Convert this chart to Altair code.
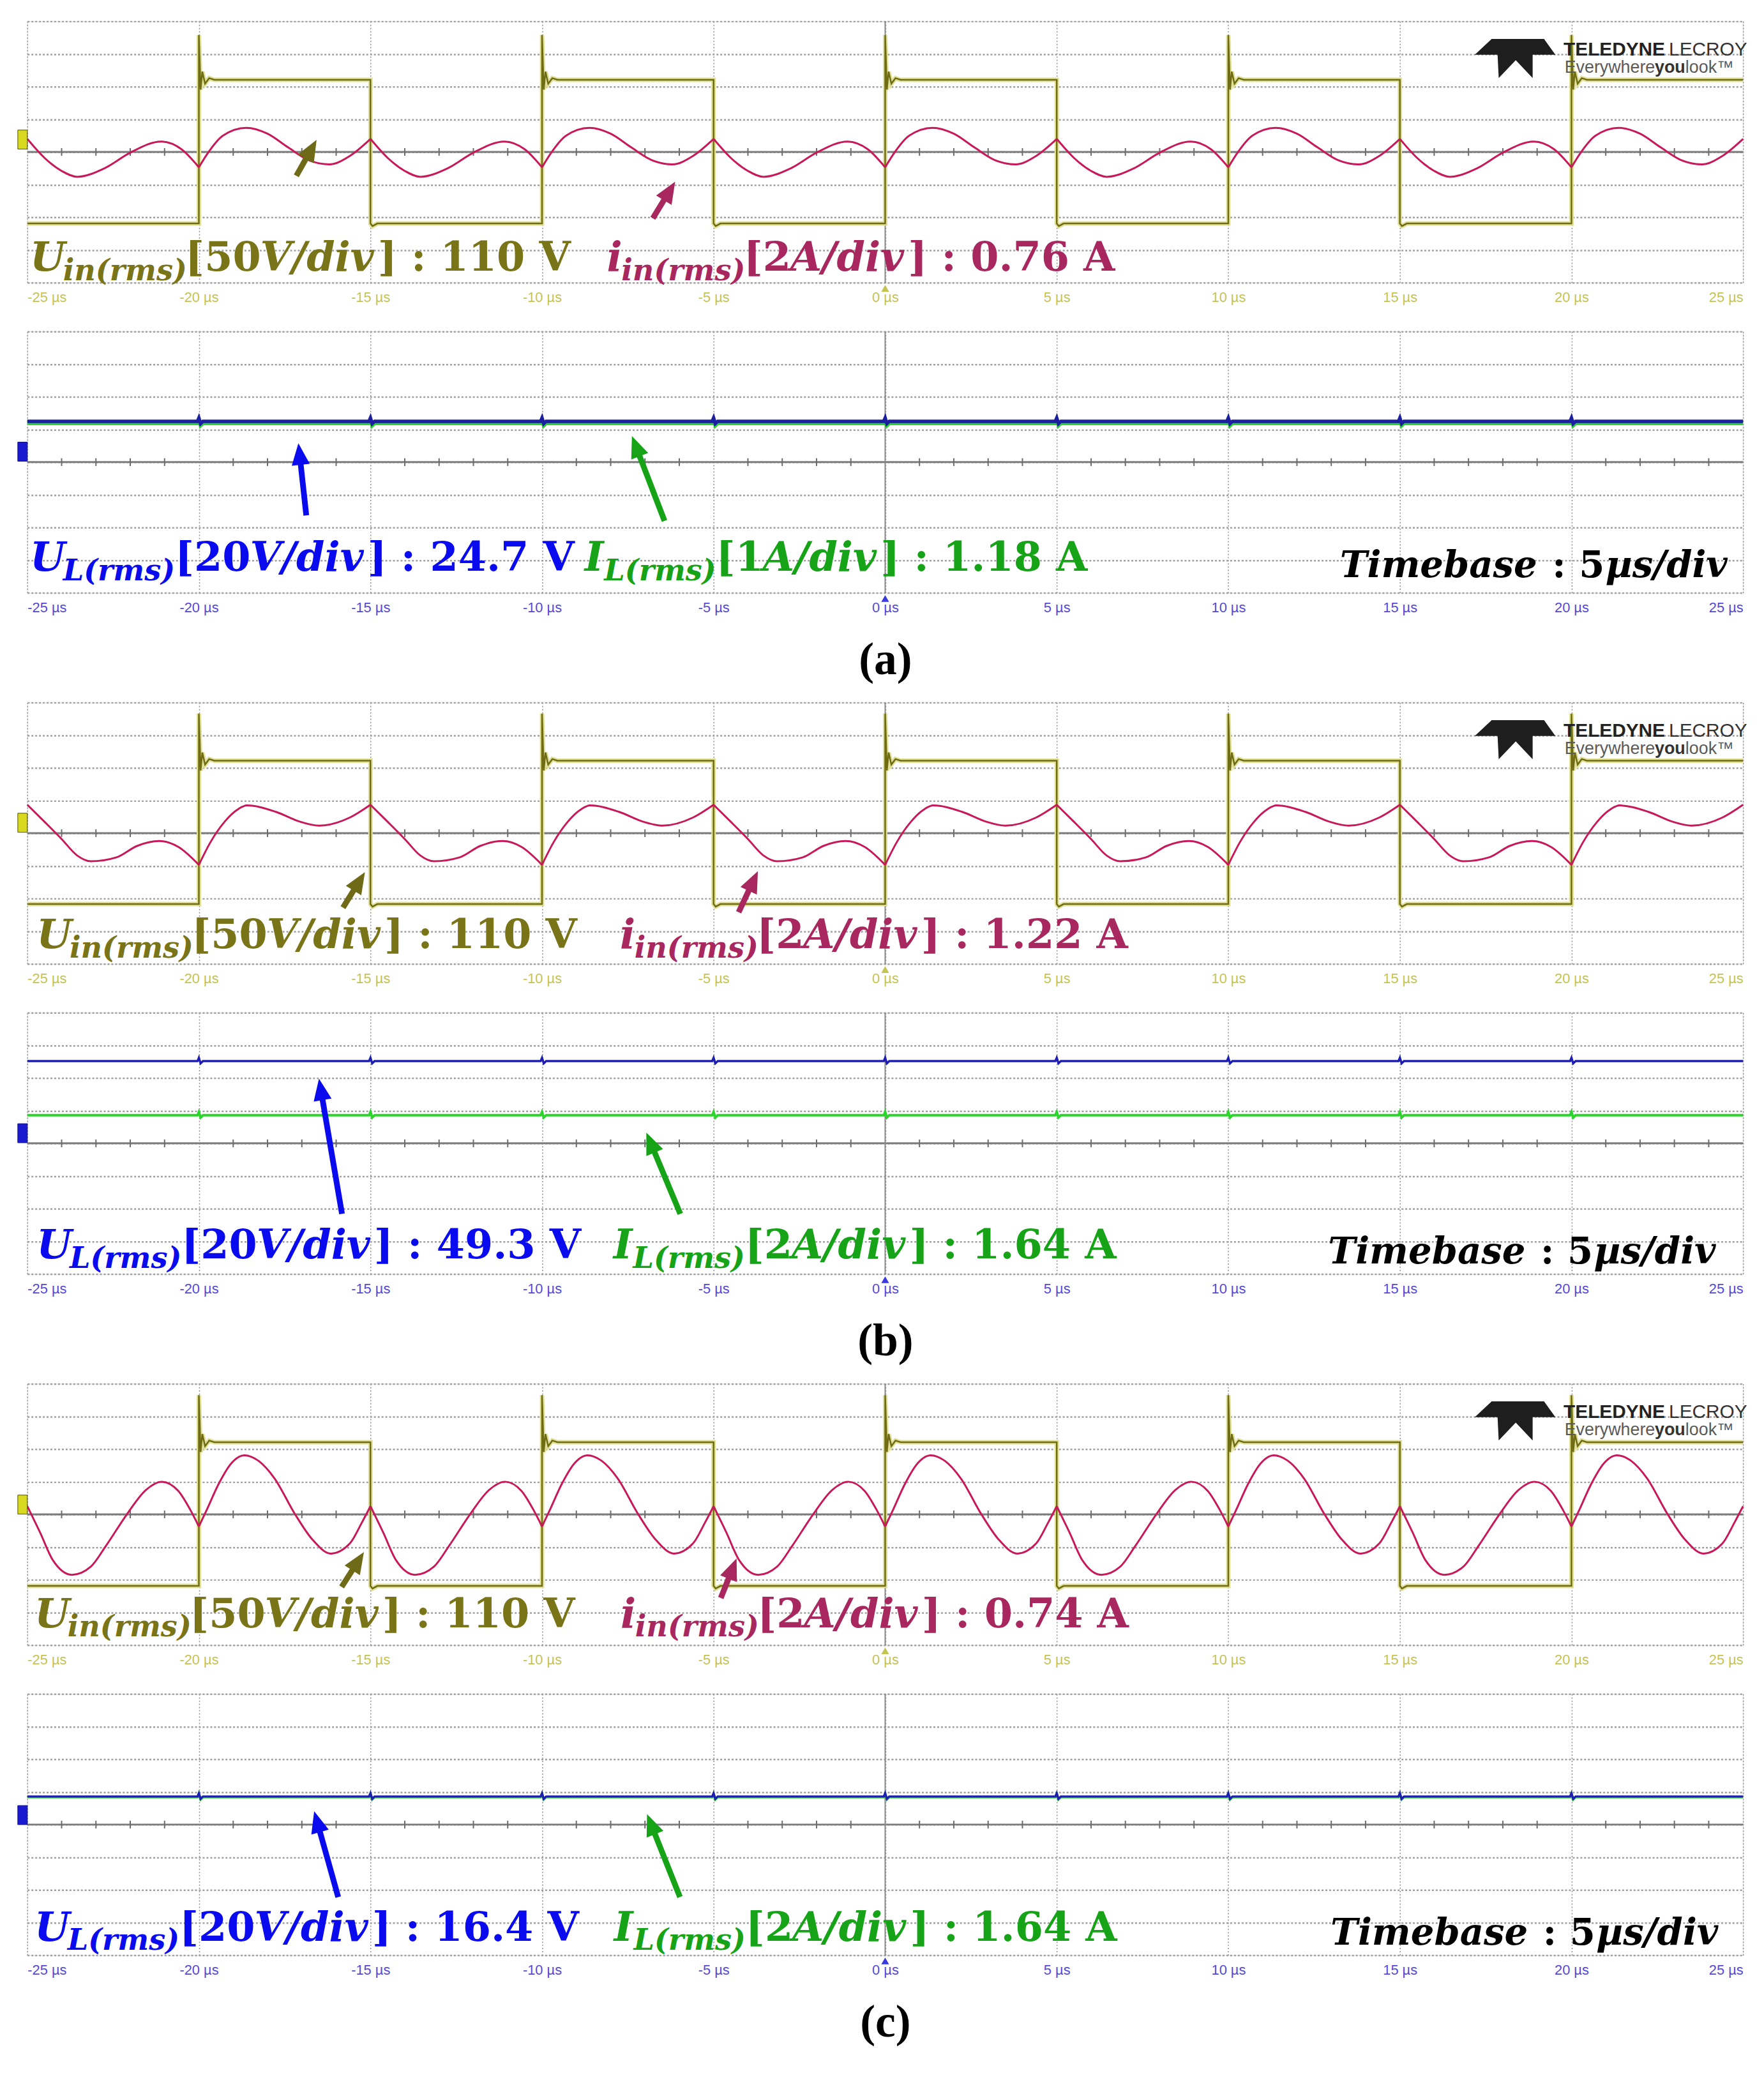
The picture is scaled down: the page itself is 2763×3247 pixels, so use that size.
import math
import altair as alt
import pandas as pd

# ---------------- values ----------------
X_TICKS = [-25, -20, -15, -10, -5, 0, 5, 10, 15, 20, 25]
Y_TICKS = [-4, -3, -2, -1, 0, 1, 2, 3, 4]
MINOR_TICKS = [-24, -23, -22, -21, -19, -18, -17, -16, -14, -13, -12, -11, -9, -8, -7, -6,
               -4, -3, -2, -1, 1, 2, 3, 4, 6, 7, 8, 9, 11, 12, 13, 14, 16, 17, 18, 19,
               21, 22, 23, 24]

# switching instants of the input voltage (µs)
RISE_EDGES = [-20, -10, 0, 10, 20]
FALL_EDGES = [-15, -5, 5, 15]
HALF2_STARTS = [-30, -20, -10, 0, 10]   # rising edge preceding each second half-period

# input voltage square wave (div)
UIN_HIGH = {"a": 2.21, "b": 2.22, "c": 2.21}
UIN_LOW = {"a": -2.19, "b": -2.17, "c": -2.19}
UIN_SPIKE = {"a": 3.58, "b": 3.66, "c": 3.65}
RING_DT = [0.05, 0.10, 0.18, 0.30, 0.45]
RING_DV = [-0.30, 0.25, -0.12, 0.05, 0.0]
FALL_DT = [0.06, 0.20]
FALL_DV = [-0.08, 0.0]

# input current, one switching period (µs after rising edge, div)
A_S1_T = [0, 0.25, 0.7, 1.38, 2.0, 2.6, 3.2, 3.8, 4.4, 5.0]
A_S1_V = [-0.47, -0.05, 0.50, 0.74, 0.56, 0.14, -0.25, -0.38, -0.12, 0.40]
A_S2_T = [5.0, 5.5, 6.0, 6.45, 7.25, 8.0, 8.9, 9.5, 10.0]
A_S2_V = [0.40, -0.18, -0.58, -0.76, -0.50, -0.02, 0.32, 0.08, -0.47]

B_S1_T = [0, 0.33, 0.75, 1.15, 1.4, 2.25, 2.95, 3.5, 4.4, 5.0]
B_S1_V = [-0.97, -0.29, 0.35, 0.74, 0.85, 0.65, 0.35, 0.23, 0.48, 0.87]
B_S2_T = [5.0, 5.5, 6.0, 6.45, 6.85, 7.6, 8.2, 8.85, 9.4, 10.0]
B_S2_V = [0.87, 0.35, -0.18, -0.68, -0.86, -0.74, -0.39, -0.24, -0.42, -0.97]

C_S1_T = [0, 0.23, 0.57, 0.95, 1.32, 1.75, 2.2, 2.8, 3.3, 3.85, 4.4, 4.75, 5.0]
C_S1_V = [-0.37, 0.14, 0.92, 1.57, 1.81, 1.63, 1.11, 0.01, -0.76, -1.20, -0.89, -0.25, 0.25]
C_S2_T = [5.0, 5.37, 5.75, 6.3, 6.85, 7.3, 7.9, 8.45, 8.92, 9.4, 9.75, 10.0]
C_S2_V = [0.25, -0.55, -1.41, -1.85, -1.60, -0.95, 0.0, 0.74, 1.00, 0.72, 0.14, -0.37]

CURRENT = {"a": (A_S1_T, A_S1_V, A_S2_T, A_S2_V),
           "b": (B_S1_T, B_S1_V, B_S2_T, B_S2_V),
           "c": (C_S1_T, C_S1_V, C_S2_T, C_S2_V)}

# load voltage / load current levels (div)
UL_LEVEL = {"a": 1.25, "b": 2.52, "c": 0.86}
IL_LEVEL = {"a": 1.19, "b": 0.86, "c": 0.84}
BLIP_DT = [-0.04, 0.0, 0.05, 0.12]
BLIP_DV = [0.0, 0.10, -0.07, 0.0]

CAPTIONS = {"a": "(a)", "b": "(b)", "c": "(c)"}

# ---------------- colours & layout ----------------
OLIVE_T = "#7a7418"
MAG_T = "#a8275f"
BLUE_T = "#0a0aee"
GREEN_T = "#17a317"
BLACK = "#000000"

W, H = 2705, 412
PX_T = W / 50.0
PX_V = H / 8.0
MAIN_FS, SUB_FS, TB_FS = 64, 46.5, 58
SUB_DROP = 0.29
HEAD_R = 19.0
HEAD_PATH = "M0,-1L0.75,0.8L-0.75,0.8Z"
LOGO_PATH = ("M-0.579,-0.483L0.711,-0.483L0.990,-0.092L0.430,-0.092L0.430,0.481"
             "L0.014,0.039L-0.406,0.481L-0.434,-0.092L-0.995,-0.092Z")
MARK_PATH = "M-1,-1L0,-1L0,1L-1,1Z"

# approximate advance widths (em) of DejaVu Serif Bold, used to chain text pieces
ADV = {" ": 0.348, "[": 0.456, "]": 0.456, "(": 0.457, ")": 0.457, ":": 0.38, ".": 0.381,
       "/": 0.365, "V": 0.77, "A": 0.774, "U": 0.812, "I": 0.468, "L": 0.707, "T": 0.682,
       "d": 0.716, "i": 0.343, "v": 0.652, "n": 0.712, "r": 0.493, "m": 1.058, "s": 0.595,
       "e": 0.678, "b": 0.716, "a": 0.675, "µ": 0.72}
for _d in "0123456789":
    ADV[_d] = 0.696

# annotation groups: start (µs), colour, pieces (text, style, gap before in em)
#  style: mi = main italic, mn = main upright, si = subscript italic, ti/tn = timebase
def uin_group(t0, value):
    return (t0, OLIVE_T, [("U", "mi", 0), ("in(rms)", "si", 0), ("[50", "mn", 0.02),
                          ("V/div", "mi", 0), ("] : " + value, "mn", 0.05)])


def iin_group(t0, value):
    return (t0, MAG_T, [("i", "mi", 0), ("in(rms)", "si", 0.02), ("[2", "mn", 0.02),
                        ("A/div", "mi", 0), ("] : " + value, "mn", 0.05)])


def ul_group(t0, scale, value):
    return (t0, BLUE_T, [("U", "mi", 0), ("L(rms)", "si", 0), ("[" + scale, "mn", 0.02),
                         ("V/div", "mi", 0), ("] : " + value, "mn", 0.05)])


def il_group(t0, scale, value):
    return (t0, GREEN_T, [("I", "mi", 0), ("L(rms)", "si", 0.02), ("[" + scale, "mn", 0.02),
                          ("A/div", "mi", 0), ("] : " + value, "mn", 0.05)])


def tb_group(t0):
    return (t0, BLACK, [("Timebase", "ti", 0), (":", "tn", 0.348), ("5", "tn", 0.348),
                        ("µs/div", "ti", 0.02)])


LABELS = {
    "a_top": [uin_group(-24.92, "110 V"), iin_group(-8.11, "0.76 A")],
    "a_bot": [ul_group(-24.92, "20", "24.7 V"), il_group(-8.76, "1", "1.18 A"), tb_group(13.25)],
    "b_top": [uin_group(-24.73, "110 V"), iin_group(-7.73, "1.22 A")],
    "b_bot": [ul_group(-24.73, "20", "49.3 V"), il_group(-7.92, "2", "1.64 A"), tb_group(12.91)],
    "c_top": [uin_group(-24.79, "110 V"), iin_group(-7.71, "0.74 A")],
    "c_bot": [ul_group(-24.79, "20", "16.4 V"), il_group(-7.90, "2", "1.64 A"), tb_group(12.98)],
}
BASELINE = {"a_top": (-3.64, None), "a_bot": (-3.32, -3.52), "b_top": (-3.52, None),
            "b_bot": (-3.53, -3.67), "c_top": (-3.45, None), "c_bot": (-3.55, -3.68)}

# arrows: (tail t, tail v, head t, head v, colour)
ARROWS = {
    "a_top": [(-17.16, -0.73, -16.57, 0.37, "#6e6a17"), (-6.77, -2.03, -6.12, -0.91, MAG_T)],
    "a_bot": [(-16.87, -1.63, -17.10, 0.58, BLUE_T), (-6.43, -1.80, -7.38, 0.80, GREEN_T)],
    "b_top": [(-15.80, -2.28, -15.16, -1.19, "#6e6a17"), (-4.27, -2.42, -3.71, -1.16, MAG_T)],
    "b_bot": [(-15.83, -2.16, -16.50, 1.98, BLUE_T), (-5.97, -2.16, -6.96, 0.33, GREEN_T)],
    "c_top": [(-15.84, -2.22, -15.19, -1.15, "#6e6a17"), (-4.79, -2.56, -4.33, -1.35, MAG_T)],
    "c_bot": [(-15.94, -2.22, -16.64, 0.41, BLUE_T), (-5.98, -2.22, -6.94, 0.32, GREEN_T)],
}
CH_MARK = {"a_top": 0.38, "a_bot": 0.32, "b_top": 0.32, "b_bot": 0.31, "c_top": 0.30, "c_bot": 0.29}

XS = alt.Scale(domain=[-25, 25], nice=False, zero=False)
YS = alt.Scale(domain=[-4, 4], nice=False, zero=False)
YA = alt.Axis(values=Y_TICKS, grid=True, gridDash=[3, 3], gridColor="#a0a0a0", gridWidth=2.5,
              labels=False, ticks=False, tickSize=0, domain=False, title=None)


def xaxis(top, caption):
    kw = dict(values=X_TICKS, labelExpr="datum.value + ' µs'", labelFlush=True, grid=True,
              gridDash=[2, 3], gridColor="#8f8f8f", gridWidth=1.5, ticks=False, tickSize=0,
              domain=False, labelColor="#c4c452" if top else "#5548d9",
              labelFont="Liberation Sans Narrow, Arial Narrow, Liberation Sans",
              labelFontSize=22, labelPadding=13)
    if caption:
        kw.update(title=caption, titleFont="Liberation Serif", titleFontSize=72,
                  titleFontWeight="bold", titleColor="black", titlePadding=37)
    else:
        kw["title"] = None
    return alt.Axis(**kw)


def square_wave(p):
    pts = [(-25.0, UIN_LOW[p])]
    events = sorted([(t, "r") for t in RISE_EDGES] + [(t, "f") for t in FALL_EDGES])
    for t, kind in events:
        if kind == "r":
            pts += [(t, UIN_LOW[p]), (t, UIN_SPIKE[p])]
            pts += [(t + dt, UIN_HIGH[p] + dv) for dt, dv in zip(RING_DT, RING_DV)]
        else:
            pts += [(t, UIN_HIGH[p]), (t, UIN_LOW[p])]
            pts += [(t + dt, UIN_LOW[p] + dv) for dt, dv in zip(FALL_DT, FALL_DV)]
    pts.append((25.0, UIN_HIGH[p]))
    return pd.DataFrame({"t": [q[0] for q in pts], "v": [q[1] for q in pts],
                         "i": list(range(len(pts)))})


def current(p):
    s1t, s1v, s2t, s2v = CURRENT[p]
    rec = []
    seg = 0
    for t0 in HALF2_STARTS:
        rec += [(t0 + dt, v, seg) for dt, v in zip(s2t, s2v)]
        seg += 1
    for t0 in RISE_EDGES:
        rec += [(t0 + dt, v, seg) for dt, v in zip(s1t, s1v)]
        seg += 1
    df = pd.DataFrame(rec, columns=["t", "v", "seg"])
    return df[(df.t >= -25) & (df.t <= 25)]


def flat(level):
    pts = [(-25.0, level)]
    for e in sorted(RISE_EDGES + FALL_EDGES):
        pts += [(e + dt, level + dv) for dt, dv in zip(BLIP_DT, BLIP_DV)]
    pts.append((25.0, level))
    return pd.DataFrame({"t": [q[0] for q in pts], "v": [q[1] for q in pts]})


def arrows_df(key):
    rows = []
    for tt, tv, ht, hv, col in ARROWS[key]:
        dx = (ht - tt) * PX_T
        dy = -(hv - tv) * PX_V
        L = math.hypot(dx, dy)
        ux, uy = dx / L, dy / L
        ct = ht - ux * HEAD_R / PX_T
        cv = hv + uy * HEAD_R / PX_V
        ang = math.degrees(math.atan2(ux, -uy)) % 360
        rows.append(dict(t=tt, v=tv, t2=ct, v2=cv, ht=ct, hv=cv, ang=ang, c=col))
    return pd.DataFrame(rows)


def text_width(s, fs):
    return sum(ADV.get(ch, 0.65) for ch in s) * fs


def label_rows(key):
    base, tb_base = BASELINE[key]
    rows = []
    for t0, col, pieces in LABELS[key]:
        x = t0
        for text, st, gap in pieces:
            if st in ("mi", "mn"):
                v, fs = base, MAIN_FS
            elif st == "si":
                v, fs = base - SUB_DROP, SUB_FS
            else:
                v, fs = tb_base, TB_FS
            x += gap * fs / PX_T
            rows.append(dict(t=x, v=v, text=text, c=col, fs=fs,
                             it=st in ("mi", "si", "ti")))
            x += text_width(text, fs) / PX_T
    return pd.DataFrame(rows)


def panel(p, top):
    key = f"{p}_{'top' if top else 'bot'}"
    xa = xaxis(top, None if top else CAPTIONS[p])

    def X(f="t"):
        return alt.X(f"{f}:Q", scale=XS, axis=xa)

    def Y(f="v"):
        return alt.Y(f"{f}:Q", scale=YS, axis=YA)

    layers = []
    layers.append(alt.Chart(pd.DataFrame({"t": [-25, 25], "v": [0, 0]}))
                  .mark_line(color="#7c7c7c", strokeWidth=3).encode(x=X(), y=Y()))
    layers.append(alt.Chart(pd.DataFrame({"t": [0]}))
                  .mark_rule(color="#8a8a8a", strokeWidth=2).encode(x=X()))
    layers.append(alt.Chart(pd.DataFrame({"t": MINOR_TICKS, "v": [0] * len(MINOR_TICKS)}))
                  .mark_point(shape="M0,-1L0,1", size=150, color="#6c6c6c", strokeWidth=2,
                              opacity=1, filled=False).encode(x=X(), y=Y()))

    if top:
        sq = square_wave(p)
        layers.append(alt.Chart(sq).mark_line(color="#e0e098", strokeWidth=7)
                      .encode(x=X(), y=Y(), order="i:Q"))
        layers.append(alt.Chart(sq).mark_line(color="#6f6c14", strokeWidth=2.5)
                      .encode(x=X(), y=Y(), order="i:Q"))
        layers.append(alt.Chart(current(p))
                      .mark_line(color="#c8185a", strokeWidth=3, interpolate="monotone")
                      .encode(x=X(), y=Y(), detail="seg:N"))
    else:
        wid = 6 if p == "a" else 4
        layers.append(alt.Chart(flat(IL_LEVEL[p])).mark_line(color="#2bd52b", strokeWidth=wid)
                      .encode(x=X(), y=Y()))
        layers.append(alt.Chart(flat(UL_LEVEL[p]))
                      .mark_line(color="#1c1fa0" if p == "a" else "#1e1eb4", strokeWidth=wid - 0.5)
                      .encode(x=X(), y=Y()))

    # arrows
    adf = arrows_df(key)
    layers.append(alt.Chart(adf).mark_rule(strokeWidth=9, strokeCap="butt")
                  .encode(x=X(), y=Y(), x2="t2:Q", y2="v2:Q",
                          color=alt.Color("c:N", scale=None)))
    layers.append(alt.Chart(adf).mark_point(shape=HEAD_PATH, size=(2 * HEAD_R) ** 2,
                                            filled=True, opacity=1, strokeWidth=0)
                  .encode(x=X("ht"), y=Y("hv"), angle=alt.Angle("ang:Q", scale=None),
                          color=alt.Color("c:N", scale=None)))

    # annotation text
    tdf = label_rows(key)
    for italic in (True, False):
        sub = tdf[tdf.it == italic]
        layers.append(alt.Chart(sub).mark_text(align="left", baseline="alphabetic",
                                               font="DejaVu Serif", fontWeight="bold",
                                               fontStyle="italic" if italic else "normal")
                      .encode(x=X(), y=Y(), text="text:N",
                              color=alt.Color("c:N", scale=None),
                              size=alt.Size("fs:Q", scale=None)))

    if top:
        layers.append(alt.Chart(pd.DataFrame({"t": [18.36], "v": [2.86]}))
                      .mark_point(shape=LOGO_PATH, size=16384, filled=True, opacity=1,
                                  color="#1e1e1e", strokeWidth=0)
                      .encode(x=X(), y=Y()))
        logo_txt = pd.DataFrame([
            dict(t=19.77, v=2.95, text="TELEDYNE", fw="bold", fs=30, c="#222222"),
            dict(t=22.84, v=2.95, text="LECROY", fw="normal", fs=30, c="#333333"),
            dict(t=19.80, v=2.42, text="Everywhere", fw="normal", fs=27, c="#5a5a5a"),
            dict(t=22.43, v=2.42, text="you", fw="bold", fs=27, c="#333333"),
            dict(t=23.32, v=2.42, text="look\u2122", fw="normal", fs=27, c="#5a5a5a"),
        ])
        for fw in ("bold", "normal"):
            layers.append(alt.Chart(logo_txt[logo_txt.fw == fw])
                          .mark_text(align="left", baseline="alphabetic",
                                     font="Liberation Sans", fontWeight=fw)
                          .encode(x=X(), y=Y(), text="text:N",
                                  color=alt.Color("c:N", scale=None),
                                  size=alt.Size("fs:Q", scale=None)))

    # channel offset marker and trigger marker
    mcol = "#d8d820" if top else "#1a1ad0"
    layers.append(alt.Chart(pd.DataFrame({"t": [-25], "v": [CH_MARK[key]]}))
                  .mark_point(shape=MARK_PATH, size=900, filled=True, opacity=1,
                              color=mcol, stroke="#555500" if top else "#0a0a80",
                              strokeWidth=1)
                  .encode(x=X(), y=Y()))
    layers.append(alt.Chart(pd.DataFrame({"t": [0], "v": [-4]}))
                  .mark_point(shape="triangle-up", size=150, filled=True, opacity=1,
                              color="#c4c452" if top else "#3a3ae0", yOffset=9)
                  .encode(x=X(), y=Y()))

    return alt.layer(*layers).properties(width=W, height=H)


pairs = [alt.vconcat(panel(p, True), panel(p, False), spacing=40) for p in ("a", "b", "c")]
chart = (alt.vconcat(*pairs, spacing=28)
         .properties(padding={"left": 17, "top": 13, "right": 10, "bottom": 10})
         .configure_view(stroke="#8a8a8a", strokeWidth=3)
         .configure(background="white"))

chart.save("out.html", embed_options={"renderer": "svg", "actions": False})
